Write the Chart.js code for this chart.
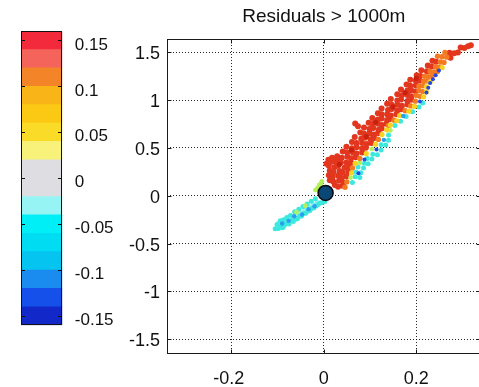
<!DOCTYPE html>
<html>
<head>
<meta charset="utf-8">
<script src="https://cdn.jsdelivr.net/npm/chart.js@4.4.1/dist/chart.umd.min.js"></script>
<style>
  html, body { margin: 0; padding: 0; background: #fff; width: 479px; height: 387px; overflow: hidden; }
  .pane { position: absolute; left: 0; top: 0; }
</style>
</head>
<body>
<div class="pane"><canvas id="cbar" width="130" height="387"></canvas></div>
<div class="pane"><canvas id="main" width="490" height="387"></canvas></div>
<script>
// ---- axes ----
const xRange = [-0.34, 0.34];
const yRange = [-1.655, 1.64];
const xTicks = [-0.2, 0, 0.2];
const xTickLabels = ['-0.2', '0', '0.2'];
const yTicks = [-1.5, -1, -0.5, 0, 0.5, 1, 1.5];
const yTickLabels = ['-1.5', '-1', '-0.5', '0', '0.5', '1', '1.5'];

// ---- colour scale (residual, bottom to top) ----
const cbEdges = [-0.16, -0.14, -0.12, -0.10, -0.08, -0.06, -0.04, -0.02, 0,
                 0.02, 0.04, 0.06, 0.08, 0.10, 0.12, 0.14, 0.16];
const cbColors = ['#1228c8', '#1650ea', '#1a8cf0', '#06c4f0', '#00dcf2', '#00eef6', '#96f4f4', '#dedee2',
                  '#dedee2', '#f8f27a', '#fadc28', '#fbc814', '#f9b418', '#f48428', '#f4645a', '#f22a3c'];
const cbTicks = [-0.15, -0.1, -0.05, 0, 0.05, 0.1, 0.15];
const cbTickLabels = ['-0.15', '-0.1', '-0.05', '0', '0.05', '0.1', '0.15'];

// ---- reference station ----
const station = [[0.004, 0.03]];

// ---- residual samples, grouped by colour class ----
const redPts = [
  [0.024,0.112],[0.031,0.094],[0.041,0.106],
  [0.013,0.163],[0.021,0.148],[0.033,0.158],[0.043,0.137],
  [0.011,0.214],[0.019,0.197],[0.031,0.209],[0.039,0.186],[0.049,0.203],
  [0.013,0.262],[0.021,0.247],[0.034,0.258],[0.041,0.241],[0.053,0.252],
  [0.011,0.313],[0.023,0.298],[0.031,0.314],[0.045,0.292],[0.055,0.304],
  [0.006,0.334],[0.010,0.378],[0.018,0.398],[0.030,0.388],[0.024,0.372],
  [0.017,0.357],[0.027,0.352],[0.037,0.347],[0.049,0.349],[0.059,0.346],
  [0.029,0.413],[0.039,0.398],[0.051,0.409],[0.059,0.392],[0.069,0.404],
  [0.041,0.463],[0.051,0.452],[0.063,0.454],[0.071,0.441],[0.083,0.453],
  [0.049,0.514],[0.061,0.497],[0.071,0.508],[0.083,0.492],[0.091,0.503],
  [0.061,0.563],[0.071,0.552],[0.083,0.553],[0.093,0.541],[0.103,0.553],
  [0.067,0.614],[0.081,0.597],[0.089,0.608],[0.101,0.592],[0.109,0.604],
  [0.079,0.663],[0.087,0.652],[0.099,0.654],[0.107,0.641],[0.117,0.653],
  [0.087,0.713],[0.099,0.698],[0.107,0.708],[0.119,0.691],[0.125,0.704],
  [0.068,0.755],[0.074,0.728],
  [0.097,0.763],[0.105,0.752],[0.117,0.753],[0.125,0.741],[0.135,0.754],
  [0.105,0.813],[0.117,0.797],[0.125,0.808],[0.137,0.792],[0.143,0.803],
  [0.117,0.863],[0.125,0.852],[0.137,0.853],[0.145,0.841],[0.157,0.854],
  [0.125,0.913],[0.139,0.897],[0.147,0.908],[0.159,0.892],[0.167,0.904],
  [0.137,0.963],[0.147,0.952],[0.159,0.953],[0.169,0.941],[0.181,0.954],
  [0.145,1.013],[0.159,0.997],[0.167,1.008],[0.181,0.992],[0.189,1.004],
  [0.159,1.063],[0.169,1.052],[0.181,1.053],[0.189,1.041],
  [0.167,1.113],[0.181,1.102],[0.189,1.104],[0.199,1.092],
  [0.179,1.163],[0.187,1.152],[0.199,1.154],
  [0.187,1.213],[0.199,1.202],[0.207,1.204],
  [0.201,1.262],[0.209,1.252],
  [0.211,1.313],[0.223,1.302],
  [0.225,1.362],[0.233,1.352],
  [0.235,1.412],[0.243,1.402],
  [0.274,1.445],
  [0.272,1.495],[0.282,1.49],[0.290,1.50],
  [0.296,1.55],[0.304,1.545],
  [0.312,1.565],[0.318,1.575]
];
const deepRedPts = [
  [0.034,0.330],[0.060,0.480],[0.092,0.620],[0.112,0.770],[0.150,0.930],[0.176,1.080],[0.200,1.230]
];
const orangePts = [
  [0.046,0.09],[0.050,0.145],[0.062,0.29],[0.078,0.39],[0.118,0.59],[0.140,0.735],
  [0.152,0.79],[0.176,0.89],[0.188,0.94],[0.198,0.99],[0.200,1.05],[0.208,1.04],
  [0.206,1.10],[0.214,1.09],[0.206,1.145],[0.214,1.15],[0.216,1.195],[0.224,1.20],
  [0.218,1.25],[0.226,1.245],[0.234,1.25],[0.230,1.30],[0.238,1.295],[0.246,1.30],
  [0.242,1.35],[0.250,1.345],[0.252,1.40],[0.260,1.395],[0.246,1.46],[0.256,1.455],
  [0.266,1.45],[0.262,1.50]
];
const yellowPts = [
  [0.060,0.24],[0.068,0.34],[0.092,0.44],[0.112,0.54],[0.126,0.64],[0.136,0.69],
  [0.144,0.74],[0.158,0.785],[0.164,0.84],[0.184,0.885],[0.196,0.935],[0.216,1.035],
  [0.222,1.085],[0.222,1.14],[0.230,1.19],[0.256,1.34]
];
const greenPts = [
  [0.058,0.19],[0.078,0.345],[0.104,0.49],[0.144,0.685],
  [-0.018,0.06],[-0.014,0.08],[-0.010,0.11],[-0.006,0.13],[-0.004,0.15],
  [-0.059,-0.170],[-0.040,-0.104]
];
const cyanPts = [
  [0.062,0.14],[0.068,0.20],[0.078,0.19],[0.070,0.25],[0.080,0.24],[0.074,0.30],
  [0.086,0.29],[0.088,0.34],[0.096,0.335],[0.094,0.39],[0.104,0.385],[0.106,0.435],
  [0.116,0.43],[0.124,0.48],[0.124,0.535],[0.134,0.53],[0.140,0.58],[0.140,0.635],
  [0.154,0.735],[0.166,0.78],[0.178,0.83],[0.192,0.88],[0.206,0.93],[0.214,0.97],
  [-0.105,-0.345],[-0.101,-0.300],[-0.098,-0.342],[-0.094,-0.262],[-0.092,-0.318],
  [-0.089,-0.335],[-0.087,-0.250],[-0.084,-0.300],[-0.080,-0.228],[-0.078,-0.282],
  [-0.075,-0.295],[-0.072,-0.205],[-0.070,-0.258],[-0.066,-0.268],[-0.063,-0.168],
  [-0.061,-0.236],[-0.057,-0.240],[-0.054,-0.140],[-0.052,-0.214],[-0.048,-0.212],
  [-0.045,-0.112],[-0.043,-0.186],[-0.039,-0.184],[-0.036,-0.086],[-0.034,-0.160],
  [-0.030,-0.155],[-0.027,-0.058],[-0.025,-0.130],[-0.021,-0.124],[-0.018,-0.032],
  [-0.016,-0.104],[-0.012,-0.090],[-0.008,-0.076],[-0.003,-0.070],[0.002,-0.060]
];
const paleCyanPts = [
  [-0.097,-0.280],[-0.083,-0.262],[-0.074,-0.240],[-0.068,-0.222],[-0.058,-0.196],
  [-0.050,-0.170],[-0.041,-0.140],[-0.032,-0.118],[-0.023,-0.092],[-0.014,-0.070],
  [-0.086,-0.318],[-0.062,-0.252]
];
const skyPts = [
  [0.130,0.585],[0.172,0.835],
  [-0.090,-0.290],[-0.076,-0.262],[-0.064,-0.214],[-0.047,-0.196],[-0.033,-0.140],[-0.020,-0.110]
];
const bluePts = [
  [0.075,0.235],[0.088,0.38],[0.114,0.485],[0.208,0.985],[0.222,1.08],[0.226,1.13],
  [0.230,1.18],[0.236,1.22],[0.242,1.26],[0.249,1.31]
];

const FONT = "'Liberation Sans', Arial, Helvetica, sans-serif";
Chart.defaults.font.family = FONT;
Chart.defaults.color = '#111';

const toXY = arr => arr.map(([x, y]) => ({ x, y }));
const fixTicks = values => scale => { scale.ticks = values.map(v => ({ value: v })); };

// box outline with short inward tick marks
const framePlugin = {
  id: 'frame',
  afterDraw(chart, args, opts) {
    const { ctx, chartArea: a } = chart;
    const sx = chart.scales[opts.xId], sy = chart.scales[opts.yId];
    const L = Math.round(a.left) + 0.5, R = Math.round(a.right) - 0.5;
    const T = Math.round(a.top) + 0.5, B = Math.round(a.bottom) - 0.5;
    ctx.save();
    ctx.setLineDash([]);
    ctx.strokeStyle = opts.color;
    ctx.lineWidth = 1;
    ctx.strokeRect(L, T, R - L, B - T);
    ctx.beginPath();
    if (sx && opts.xTicks) {
      opts.xTicks.forEach(v => {
        const p = Math.round(sx.getPixelForValue(v)) + 0.5;
        ctx.moveTo(p, T); ctx.lineTo(p, T + opts.len);
        ctx.moveTo(p, B); ctx.lineTo(p, B - opts.len);
      });
    }
    opts.yTicks.forEach(v => {
      const p = Math.round(sy.getPixelForValue(v)) + 0.5;
      ctx.moveTo(L, p); ctx.lineTo(L + opts.len, p);
      ctx.moveTo(R, p); ctx.lineTo(R - opts.len, p);
    });
    ctx.stroke();
    ctx.restore();
  }
};

// ---- colour bar ----
new Chart(document.getElementById('cbar'), {
  type: 'bar',
  data: {
    labels: [''],
    datasets: cbColors.map((c, i) => ({
      data: [[cbEdges[i], cbEdges[i + 1]]],
      backgroundColor: c,
      borderWidth: 0,
      grouped: false,
      barPercentage: 1,
      categoryPercentage: 1
    }))
  },
  options: {
    responsive: false,
    animation: false,
    layout: { padding: { left: 21, top: 31.2, bottom: 61.8, right: 0 } },
    plugins: {
      legend: { display: false }, tooltip: { enabled: false },
      frame: { xId: 'x', yId: 'y', yTicks: cbTicks, len: 3.5, color: '#111' }
    },
    scales: {
      x: { display: false },
      y: {
        position: 'right',
        min: cbEdges[0], max: cbEdges[cbEdges.length - 1],
        afterBuildTicks: fixTicks(cbTicks),
        afterFit: s => { s.width = 67.7; },
        grid: { display: false },
        border: { display: false },
        ticks: {
          padding: 4.5,
          labelOffset: 4.5,
          font: { size: 17 },
          color: '#111',
          callback: (v, i) => cbTickLabels[i]
        }
      }
    }
  },
  plugins: [framePlugin]
});

// ---- scatter ----
const cloud = (data, color, r) => ({
  data: toXY(data), backgroundColor: color, borderWidth: 0,
  pointRadius: r, pointHoverRadius: r
});

new Chart(document.getElementById('main'), {
  type: 'scatter',
  data: {
    datasets: [
      { data: toXY(station), backgroundColor: '#0b4775', borderColor: '#0a0a0a',
        borderWidth: 1.5, pointRadius: 7.5, pointHoverRadius: 7.5 },
      cloud(bluePts, '#2448e0', 2),
      cloud(skyPts, '#2a9ef0', 2.2),
      cloud(yellowPts, '#f8d21e', 2.6),
      cloud(orangePts, '#f47a22', 2.7),
      cloud(greenPts, '#b4f05a', 2.4),
      cloud(deepRedPts, '#c8220e', 2.6),
      cloud(redPts, '#e2361e', 3),
      cloud(cyanPts, '#3ce8de', 2.5),
      cloud(paleCyanPts, '#8ef2ea', 2.5)
    ]
  },
  options: {
    responsive: false,
    animation: false,
    layout: { padding: { left: 0, top: 0, bottom: 0, right: 8 } },
    plugins: {
      legend: { display: false }, tooltip: { enabled: false },
      title: {
        display: true, text: 'Residuals > 1000m', fullSize: false,
        font: { size: 19, weight: 'normal' }, color: '#111',
        padding: { top: 5, bottom: 11.2 }
      },
      frame: { xId: 'x', yId: 'y', xTicks: xTicks, yTicks: yTicks, len: 4, color: '#1a1a1a' }
    },
    scales: {
      x: {
        min: xRange[0], max: xRange[1],
        afterBuildTicks: fixTicks(xTicks),
        afterFit: s => { s.height = 33; },
        grid: { color: 'rgba(0,0,0,0.85)', lineWidth: 1, drawTicks: false },
        border: { display: false, dash: [1, 2] },
        ticks: {
          padding: 14, font: { size: 18 }, color: '#111', maxRotation: 0,
          callback: (v, i) => xTickLabels[i].startsWith('-') ? xTickLabels[i] + ' ' : xTickLabels[i]
        }
      },
      y: {
        min: yRange[0], max: yRange[1],
        afterBuildTicks: fixTicks(yTicks),
        afterFit: s => { s.width = 166.5; },
        grid: { color: 'rgba(0,0,0,0.85)', lineWidth: 1, drawTicks: false },
        border: { display: false, dash: [1, 2] },
        ticks: {
          padding: 6.5, labelOffset: 2, font: { size: 18 }, color: '#111',
          callback: (v, i) => yTickLabels[i]
        }
      }
    }
  },
  plugins: [framePlugin]
});
</script>
</body>
</html>
